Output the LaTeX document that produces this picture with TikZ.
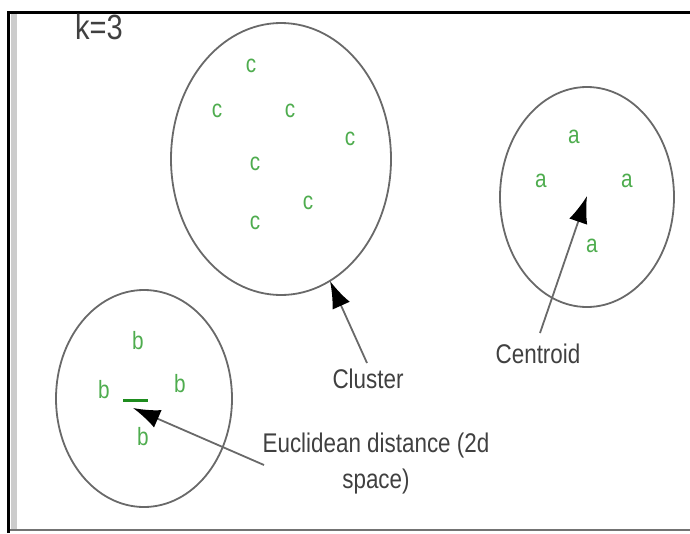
\documentclass[tikz,border=0pt]{standalone}
\usepackage{fontspec}
\setmainfont{Liberation Sans}
\newfontfamily\nf[FakeStretch=0.83]{Liberation Sans}
\usetikzlibrary{arrows.meta}
\definecolor{ptgreen}{RGB}{78,172,78}
\definecolor{dashgreen}{RGB}{30,140,30}
\definecolor{ringgray}{RGB}{105,105,105}
\begin{document}
\begin{tikzpicture}[x=1pt,y=-1pt,
  ring/.style={draw=ringgray,line width=1.8pt},
  pt/.style={text=ptgreen,font=\nf\fontsize{25}{25}\selectfont,inner sep=0pt},
  lbl/.style={font=\nf\fontsize{27}{36}\selectfont,text=black!75,inner sep=1pt},
  ptr/.style={draw=ringgray,line width=1.8pt,-{Latex[length=27pt,width=19pt,black]}}]
\useasboundingbox (0,0) rectangle (690,533);
% frame
\fill[black!20] (11,13) rectangle (17,530);
\draw[black,line width=3pt] (8.5,533) -- (8.5,12) -- (690,12);
\draw[black!55,line width=2pt] (10,530) -- (690,530);
% clusters
\draw[ring] (281,159) ellipse (110pt and 136pt);
\draw[ring] (587,197) ellipse (87pt and 110pt);
\draw[ring] (144,398.5) ellipse (88pt and 108.5pt);
% labels
\node[lbl,font=\nf\fontsize{35}{35}\selectfont] (k) at (99,27) {k=3};
% c points
\node[pt] (c1) at (251,66) {c};
\node[pt] (c2) at (217,111) {c};
\node[pt] (c3) at (290,111) {c};
\node[pt] (c4) at (350,139) {c};
\node[pt] (c5) at (255,164) {c};
\node[pt] (c6) at (308,203) {c};
\node[pt] (c7) at (255,223) {c};
% a points
\node[pt] (a1) at (574,137) {a};
\node[pt] (a2) at (541,181) {a};
\node[pt] (a3) at (627,181) {a};
\node[pt] (a4) at (592,246) {a};
% b points
\node[pt] (b1) at (138,341) {b};
\node[pt] (b2) at (104,390) {b};
\node[pt] (b3) at (180,384) {b};
\node[pt] (b4) at (143,437) {b};
\draw[dashgreen,line width=3pt] (123,400) -- (148,400);
% text labels
\node[lbl] (cluster) at (368,379) {Cluster};
\node[lbl] (centroid) at (538,354) {Centroid};
\node[lbl,align=center] (eucl) at (376,464) {Euclidean distance (2d\\space)};
% arrow tips
\coordinate (tipc) at (330,281);
\coordinate (tipa) at (587,196);
\coordinate (tipb) at (133,408);
\coordinate (fromc) at (367,363);
\coordinate (froma) at (540,333);
\coordinate (fromb) at (264,465);
\draw[ptr] (fromc) -- (tipc);
\draw[ptr] (froma) -- (tipa);
\draw[ptr] (fromb) -- (tipb);
\end{tikzpicture}
\end{document}
